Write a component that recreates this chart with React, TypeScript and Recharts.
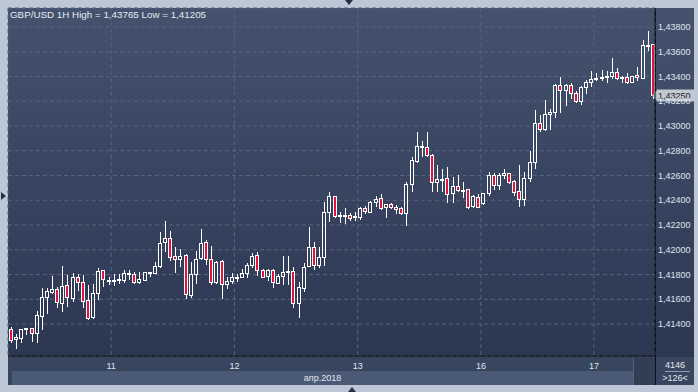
import React from 'react';
import { ComposedChart, Bar, XAxis, YAxis, CartesianGrid, ReferenceLine } from 'recharts';

const titleText = 'GBP/USD 1H High = 1,43765 Low = 1,41205';

const openPrices = [
  1.41360, 1.41279, 1.41289, 1.41357, 1.41368, 1.41327, 1.41467, 1.41618, 1.41661, 1.41680,
  1.41572, 1.41715, 1.41608, 1.41777, 1.41739, 1.41592, 1.41454, 1.41653, 1.41836, 1.41753,
  1.41755, 1.41755, 1.41755, 1.41801, 1.41801, 1.41742, 1.41755, 1.41810, 1.41815, 1.41869,
  1.42060, 1.42092, 1.41947, 1.41923, 1.41958, 1.41634, 1.41801, 1.41936, 1.42060, 1.41928,
  1.41737, 1.41909, 1.41721, 1.41750, 1.41772, 1.41782, 1.41810, 1.41874, 1.41955, 1.41836,
  1.41788, 1.41834, 1.41734, 1.41788, 1.41818, 1.41828, 1.41567, 1.41693, 1.41871, 1.42025,
  1.41874, 1.41944, 1.42307, 1.42434, 1.42272, 1.42272, 1.42278, 1.42262, 1.42267, 1.42335,
  1.42307, 1.42389, 1.42416, 1.42343, 1.42369, 1.42348, 1.42335, 1.42299, 1.42529, 1.42719,
  1.42833, 1.42828, 1.42766, 1.42550, 1.42566, 1.42577, 1.42456, 1.42515, 1.42477, 1.42488,
  1.42353, 1.42429, 1.42375, 1.42456, 1.42604, 1.42523, 1.42601, 1.42617, 1.42556, 1.42475,
  1.42407, 1.42577, 1.42707, 1.43022, 1.42973, 1.43094, 1.43115, 1.43331, 1.43288, 1.43331,
  1.43270, 1.43204, 1.43312, 1.43358, 1.43380, 1.43385, 1.43393, 1.43406, 1.43434, 1.43385,
  1.43393, 1.43358, 1.43410, 1.43390, 1.43649, 1.43660,
];

const highPrices = [
  1.41376, 1.41319, 1.41360, 1.41368, 1.41370, 1.41507, 1.41691, 1.41691, 1.41788, 1.41699,
  1.41869, 1.41796, 1.41810, 1.41804, 1.41796, 1.41715, 1.41723, 1.41850, 1.41838, 1.41777,
  1.41804, 1.41804, 1.41836, 1.41836, 1.41822, 1.41822, 1.41820, 1.41822, 1.41903, 1.42146,
  1.42235, 1.42154, 1.42020, 1.42004, 1.41966, 1.41903, 1.41990, 1.42168, 1.42079, 1.42030,
  1.41911, 1.41917, 1.41777, 1.41815, 1.41804, 1.41844, 1.41890, 1.41976, 1.41984, 1.41847,
  1.41847, 1.41847, 1.41801, 1.41949, 1.41949, 1.41863, 1.41742, 1.41890, 1.42186, 1.42063,
  1.42025, 1.42388, 1.42469, 1.42436, 1.42307, 1.42335, 1.42299, 1.42307, 1.42343, 1.42353,
  1.42391, 1.42434, 1.42451, 1.42369, 1.42380, 1.42361, 1.42343, 1.42547, 1.42747, 1.42949,
  1.42881, 1.42949, 1.42774, 1.42685, 1.42653, 1.42666, 1.42585, 1.42604, 1.42545, 1.42490,
  1.42442, 1.42451, 1.42461, 1.42626, 1.42622, 1.42622, 1.42650, 1.42622, 1.42564, 1.42685,
  1.42628, 1.42798, 1.43129, 1.43089, 1.43210, 1.43137, 1.43337, 1.43398, 1.43337, 1.43345,
  1.43283, 1.43325, 1.43372, 1.43444, 1.43426, 1.43452, 1.43444, 1.43547, 1.43466, 1.43406,
  1.43431, 1.43401, 1.43474, 1.43695, 1.43765, 1.43662,
];

const lowPrices = [
  1.41255, 1.41205, 1.41255, 1.41319, 1.41263, 1.41255, 1.41360, 1.41489, 1.41650, 1.41540,
  1.41507, 1.41548, 1.41588, 1.41675, 1.41535, 1.41438, 1.41446, 1.41602, 1.41707, 1.41723,
  1.41715, 1.41729, 1.41742, 1.41764, 1.41734, 1.41734, 1.41753, 1.41788, 1.41810, 1.41863,
  1.41992, 1.41917, 1.41823, 1.41871, 1.41608, 1.41616, 1.41734, 1.41925, 1.41885, 1.41721,
  1.41729, 1.41613, 1.41693, 1.41731, 1.41750, 1.41780, 1.41782, 1.41858, 1.41796, 1.41780,
  1.41755, 1.41701, 1.41729, 1.41723, 1.41723, 1.41540, 1.41454, 1.41669, 1.41868, 1.41847,
  1.41858, 1.41877, 1.42235, 1.42267, 1.42222, 1.42214, 1.42240, 1.42240, 1.42248, 1.42299,
  1.42302, 1.42356, 1.42326, 1.42267, 1.42337, 1.42294, 1.42286, 1.42200, 1.42475, 1.42711,
  1.42760, 1.42760, 1.42477, 1.42477, 1.42477, 1.42388, 1.42388, 1.42475, 1.42429, 1.42335,
  1.42343, 1.42343, 1.42367, 1.42442, 1.42488, 1.42488, 1.42577, 1.42542, 1.42442, 1.42356,
  1.42359, 1.42556, 1.42658, 1.42959, 1.42968, 1.42973, 1.43076, 1.43115, 1.43170, 1.43224,
  1.43196, 1.43175, 1.43264, 1.43325, 1.43372, 1.43372, 1.43353, 1.43390, 1.43377, 1.43353,
  1.43345, 1.43353, 1.43372, 1.43388, 1.43614, 1.43230,
];

const closePrices = [
  1.41271, 1.41295, 1.41360, 1.41365, 1.41327, 1.41473, 1.41616, 1.41667, 1.41680, 1.41575,
  1.41707, 1.41616, 1.41777, 1.41742, 1.41588, 1.41449, 1.41653, 1.41828, 1.41761, 1.41758,
  1.41758, 1.41766, 1.41815, 1.41815, 1.41742, 1.41761, 1.41820, 1.41820, 1.41869, 1.42057,
  1.42092, 1.41944, 1.41923, 1.41947, 1.41640, 1.41801, 1.41928, 1.42052, 1.41925, 1.41737,
  1.41903, 1.41721, 1.41750, 1.41777, 1.41777, 1.41810, 1.41874, 1.41947, 1.41834, 1.41782,
  1.41836, 1.41737, 1.41788, 1.41818, 1.41828, 1.41567, 1.41696, 1.41863, 1.42025, 1.41874,
  1.41944, 1.42307, 1.42434, 1.42275, 1.42278, 1.42278, 1.42254, 1.42272, 1.42335, 1.42310,
  1.42389, 1.42407, 1.42340, 1.42367, 1.42348, 1.42327, 1.42299, 1.42531, 1.42725, 1.42838,
  1.42838, 1.42762, 1.42550, 1.42569, 1.42572, 1.42448, 1.42515, 1.42480, 1.42483, 1.42348,
  1.42434, 1.42348, 1.42456, 1.42604, 1.42523, 1.42604, 1.42617, 1.42550, 1.42464, 1.42407,
  1.42577, 1.42707, 1.43022, 1.42973, 1.43094, 1.43115, 1.43331, 1.43288, 1.43331, 1.43264,
  1.43204, 1.43317, 1.43353, 1.43380, 1.43385, 1.43393, 1.43404, 1.43434, 1.43385, 1.43396,
  1.43358, 1.43400, 1.43393, 1.43654, 1.43654, 1.43250,
];

const dayTickPositions = [19.6, 43.6, 67.6, 91.6, 113.6];
const dayTickLabels = ['11', '12', '13', '16', '17'];
const monthLabel = 'апр.2018';
const priceTicks = [1.414, 1.416, 1.418, 1.42, 1.422, 1.424, 1.426, 1.428, 1.43, 1.432, 1.434, 1.436, 1.438];
const priceDomain = [1.411414, 1.439535];
const lastPrice = 1.4325;
const barsCountLabel = '4146';
const visibleBarsLabel = '>126<';

const data = openPrices.map((o, i) => ({
  i,
  o,
  h: highPrices[i],
  l: lowPrices[i],
  c: closePrices[i],
  range: [lowPrices[i], highPrices[i]],
}));

const FONT = '"Liberation Sans", Arial, sans-serif';
const fmt = (v: number) => v.toFixed(5).replace('.', ',');

const Candle = (props: any) => {
  const { x, y, width, height, payload } = props;
  if (!payload || x == null) return null;
  const { o, h, l, c } = payload;
  const top = Math.min(y, y + height);
  const hh = Math.abs(height);
  const py = (v: number) => (h === l ? top : top + ((h - v) / (h - l)) * hh);
  const cx = Math.round(x + width / 2);
  const yo = py(o);
  const yc = py(c);
  const bt = Math.round(Math.min(yo, yc));
  const bb = Math.max(Math.round(Math.max(yo, yc)), bt + 1);
  const wt = Math.round(top);
  const wb = Math.round(top + hh);
  const up = c >= o;
  return (
    <g>
      {wt < bt && <line x1={cx + 0.5} x2={cx + 0.5} y1={wt} y2={bt} stroke="#ffffff" strokeWidth={1} />}
      {wb > bb && <line x1={cx + 0.5} x2={cx + 0.5} y1={bb} y2={wb + 1} stroke="#ffffff" strokeWidth={1} />}
      <rect
        x={cx - 1.5}
        y={bt + 0.5}
        width={3}
        height={bb - bt}
        fill={up ? 'none' : '#e3133e'}
        stroke="#ffffff"
        strokeWidth={1}
      />
    </g>
  );
};

const XTick = (props: any) => {
  const { x, y, payload } = props;
  const idx = dayTickPositions.indexOf(payload.value);
  return (
    <text x={x} y={y} dy={12.5} textAnchor="middle" fill="#dfe5ee" fontSize={9} fontFamily={FONT}>
      {dayTickLabels[idx]}
    </text>
  );
};

const YTick = (props: any) => {
  const { x, y, payload } = props;
  return (
    <text x={x} y={y} dy={3.2} textAnchor="start" fill="#dfe5ee" fontSize={9} fontFamily={FONT}>
      {fmt(payload.value)}
    </text>
  );
};

const PriceTag = (props: any) => {
  const vb = props.viewBox || {};
  const right = (vb.x || 0) + (vb.width || 0);
  const cy = Math.round(vb.y || 0);
  return (
    <g>
      <polygon points={`${right - 3},${cy + 0.5} ${right + 2},${cy - 5} ${right + 2},${cy + 6}`} fill="#aeb6c2" />
      <rect x={right + 2} y={cy - 5.5} width={37} height={12} fill="#c3c9d2" />
      <text x={right + 3} y={cy + 3.5} fill="#1a1d24" fontSize={9} fontFamily={FONT}>
        {fmt(lastPrice)}
      </text>
    </g>
  );
};

const tri = (style: React.CSSProperties) => <div style={{ position: 'absolute', width: 0, height: 0, ...style }} />;

export default function App() {
  return (
    <div style={{ position: 'absolute', left: 0, top: 0, width: 698, height: 392, background: '#bdc8d7', overflow: 'hidden', fontFamily: FONT }}>
      {/* main panel */}
      <div style={{ position: 'absolute', left: 8, top: 8, width: 686, height: 349, background: 'linear-gradient(#44526e, #2c3752)' }} />
      {/* x-axis panel */}
      <div style={{ position: 'absolute', left: 8, top: 357, width: 647, height: 28, background: '#38455f' }} />
      <div style={{ position: 'absolute', left: 12, top: 371, width: 621, height: 14, background: '#4a5976' }} />
      <div style={{ position: 'absolute', left: 633, top: 358, width: 22, height: 27, background: '#323d56', borderLeft: '1px solid #56637c' }} />
      <div style={{ position: 'absolute', left: 12, top: 371, width: 621, height: 14, textAlign: 'center', color: '#e3e8f0', fontSize: 9, lineHeight: '14px' }}>{monthLabel}</div>
      {/* bottom-right info box */}
      <div style={{ position: 'absolute', left: 656, top: 357, width: 38, height: 28, background: '#38455f' }} />
      <div style={{ position: 'absolute', left: 656, top: 359, width: 38, textAlign: 'center', color: '#e3e8f0', fontSize: 9, lineHeight: '12px' }}>{barsCountLabel}</div>
      <div style={{ position: 'absolute', left: 665, top: 371, width: 25, height: 1, background: '#8e9ab0' }} />
      <div style={{ position: 'absolute', left: 656, top: 372, width: 38, textAlign: 'center', color: '#e3e8f0', fontSize: 9, lineHeight: '12px' }}>{visibleBarsLabel}</div>
      {/* y-axis separator extension */}
      <div style={{ position: 'absolute', left: 655, top: 8, width: 1, height: 377, background: '#0c1018' }} />
      {/* title */}
      <div style={{ position: 'absolute', left: 10, top: 9, color: '#e6ebf2', fontSize: 9.8, lineHeight: '12px', whiteSpace: 'nowrap' }}>{titleText}</div>
      {/* triangles */}
      {tri({ left: 345, top: 0, borderLeft: '4px solid transparent', borderRight: '4px solid transparent', borderTop: '5px solid #27304a' })}
      {tri({ left: 348, top: 387, borderLeft: '4px solid transparent', borderRight: '4px solid transparent', borderBottom: '5px solid #27304a' })}
      {tri({ left: 1, top: 192, borderTop: '4px solid transparent', borderBottom: '4px solid transparent', borderLeft: '5px solid #27304a' })}
      <div style={{ position: 'absolute', left: 0, top: 0 }}>
        <ComposedChart width={698} height={392} data={data} margin={{ top: 8, right: 4, bottom: 6, left: 8 }}>
          <CartesianGrid stroke="#56657f" strokeDasharray="4 3" strokeWidth={1} />
          <XAxis
            dataKey="i"
            type="number"
            domain={[-0.5, 125.5]}
            ticks={dayTickPositions}
            interval={0}
            height={30}
            tickSize={0}
            tickMargin={0}
            tickLine={false}
            axisLine={{ stroke: '#0c1018' }}
            tick={<XTick />}
            allowDataOverflow
          />
          <YAxis
            orientation="right"
            domain={priceDomain}
            ticks={priceTicks}
            interval={0}
            width={39}
            tickSize={0}
            tickMargin={3}
            tickLine={false}
            axisLine={{ stroke: '#0c1018' }}
            tick={<YTick />}
            allowDataOverflow
          />
          <Bar dataKey="range" barSize={4} shape={<Candle />} isAnimationActive={false} />
          <ReferenceLine y={lastPrice} stroke="none" label={<PriceTag />} />
        </ComposedChart>
      </div>
    </div>
  );
}
